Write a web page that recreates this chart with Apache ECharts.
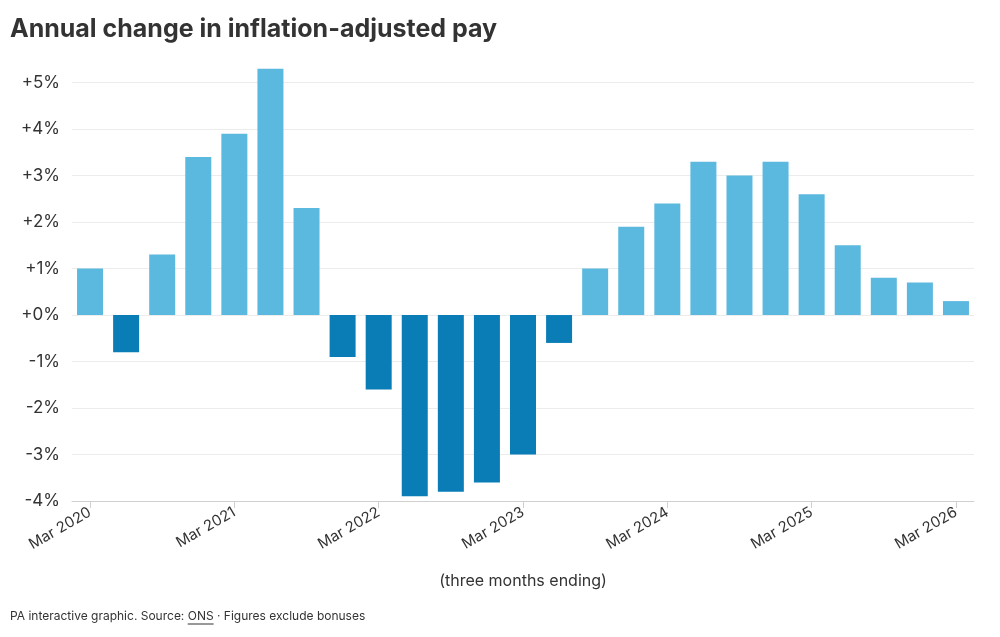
<!DOCTYPE html>
<html>
<head>
<meta charset="utf-8">
<script src="https://cdn.jsdelivr.net/npm/echarts@6/dist/echarts.min.js"></script>
<style>
html,body{margin:0;padding:0;background:#fff;}
#chart{width:1000px;height:637px;}
</style>
</head>
<body>
<div id="chart"></div>
<script>
var categories = [
  'Mar 2020','Jun 2020','Sep 2020','Dec 2020',
  'Mar 2021','Jun 2021','Sep 2021','Dec 2021',
  'Mar 2022','Jun 2022','Sep 2022','Dec 2022',
  'Mar 2023','Jun 2023','Sep 2023','Dec 2023',
  'Mar 2024','Jun 2024','Sep 2024','Dec 2024',
  'Mar 2025','Jun 2025','Sep 2025','Dec 2025',
  'Mar 2026'
];
var payChange = [
  1.0, -0.8, 1.3, 3.4,
  3.9, 5.3, 2.3, -0.9,
  -1.6, -3.9, -3.8, -3.6,
  -3.0, -0.6, 1.0, 1.9,
  2.4, 3.3, 3.0, 3.3,
  2.6, 1.5, 0.8, 0.7,
  0.3
];
var yMin = -4, yMax = 5.4, yStep = 1;

var FONT = 'Inter, "Liberation Sans", Arial, sans-serif';

// footer pieces, measured so the underline sits under "ONS"
var footPre = 'PA interactive graphic. Source: ';
var footLink = 'ONS';
var footPost = ' \u00b7 Figures exclude bonuses';
var footSize = 12;
var ctx = document.createElement('canvas').getContext('2d');
ctx.font = footSize + 'px ' + FONT;
var wPre = ctx.measureText(footPre).width;
var wLink = ctx.measureText(footLink).width;
var footX = 10, footY = 610;

var chart = echarts.init(document.getElementById('chart'), null, {renderer: 'canvas'});
chart.setOption({
  animation: false,
  backgroundColor: '#ffffff',
  title: {
    text: 'Annual change in inflation-adjusted pay',
    left: 5, top: 12,
    textStyle: {fontFamily: FONT, fontSize: 25, fontWeight: 'bold', color: '#333333'}
  },
  grid: {left: 72, right: 26, top: 64, bottom: 136, containLabel: false},
  xAxis: {
    type: 'category',
    data: categories,
    boundaryGap: true,
    name: '(three months ending)',
    nameLocation: 'middle',
    nameGap: 72,
    nameTextStyle: {fontFamily: FONT, fontSize: 16, color: '#333333'},
    axisLine: {show: true, onZero: false, lineStyle: {color: '#d0d0d0', width: 1}},
    axisTick: {show: true, alignWithLabel: true, interval: function(i){ return i % 4 === 0; }, length: 7, lineStyle: {color: '#d0d0d0'}},
    axisLabel: {
      interval: function(i){ return i % 4 === 0; },
      rotate: 30,
      margin: 10,
      fontFamily: FONT, fontSize: 15, color: '#333333'
    },
    splitLine: {show: false}
  },
  yAxis: {
    type: 'value',
    min: yMin, max: yMax, interval: yStep,
    axisLine: {show: false},
    axisTick: {show: false},
    axisLabel: {
      margin: 12,
      showMaxLabel: false,
      fontFamily: FONT, fontSize: 17, color: '#333333',
      formatter: function(v){
        if (Math.abs(v - Math.round(v)) > 1e-6) return '';
        return (v >= 0 ? '+' : '') + v + '%';
      }
    },
    splitLine: {show: true, showMaxLine: false, showMinLine: false, lineStyle: {color: '#ececec', width: 1}}
  },
  series: [{
    type: 'bar',
    data: payChange.map(function(v){
      return {value: v, itemStyle: {color: v >= 0 ? '#5bb8de' : '#0a7db7'}};
    }),
    barWidth: 26
  }],
  graphic: [
    {
      type: 'text', left: footX, top: footY,
      style: {
        text: footPre + footLink + footPost,
        fontFamily: FONT, fontSize: footSize, fill: '#333333'
      }
    },
    {
      type: 'line', shape: {x1: footX + wPre, y1: footY + footSize + 2, x2: footX + wPre + wLink, y2: footY + footSize + 2},
      style: {stroke: '#333333', lineWidth: 1}
    }
  ]
});
</script>
</body>
</html>
